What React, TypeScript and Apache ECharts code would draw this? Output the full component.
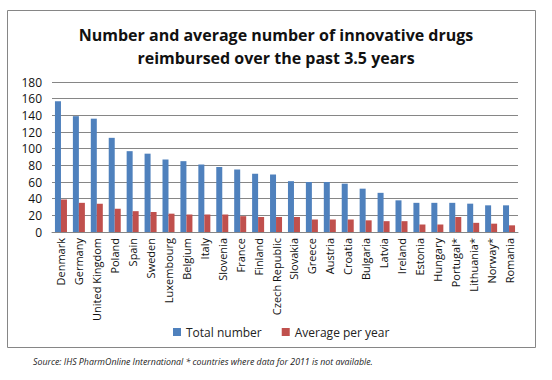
import React, { useEffect, useRef } from "react";
import * as echarts from "echarts";

const categories = ["Denmark","Germany","United Kingdom","Poland","Spain","Sweden","Luxembourg","Belgium","Italy","Slovenia","France","Finland","Czech Republic","Slovakia","Greece","Austria","Croatia","Bulgaria","Latvia","Ireland","Estonia","Hungary","Portugal*","Lithuania*","Norway*","Romania"];
const totalNumber = [157,139,136,113,97,94,87,85,81,78,75,70,69,61,60,60,58,52,47,38,35,35,35,34,32,32];
const averagePerYear = [39,35,34,28,25,24,22,21,21,21,19,18,18,18,15,15,15,14,13,13,9,9,18,11,10,8];
const yTicks = { min: 0, max: 180, interval: 20 };

const FONT = "'Open Sans', 'Noto Sans', sans-serif";

export default function App() {
  const ref = useRef<HTMLDivElement>(null);
  useEffect(() => {
    if (!ref.current) return;
    const chart = echarts.init(ref.current, null, { renderer: "svg" });
    chart.setOption({
      animation: false,
      backgroundColor: "#ffffff",
      title: {
        text: "Number and average number of innovative drugs\nreimbursed over the past 3.5 years",
        left: "center",
        top: 18,
        textStyle: { fontFamily: FONT, fontSize: 16, fontWeight: "bold", color: "#111", lineHeight: 23 },
      },
      legend: {
        data: ["Total number", "Average per year"],
        left: 168,
        top: 321,
        itemWidth: 8,
        itemHeight: 8,
        itemGap: 20,
        icon: "rect",
        textStyle: { fontFamily: FONT, fontSize: 12, color: "#222" },
      },
      grid: { left: 52, right: 34, top: 82, bottom: 148 },
      xAxis: {
        type: "category",
        data: categories,
        axisLine: { show: true, lineStyle: { color: "#868686" } },
        axisTick: { show: false },
        axisLabel: { rotate: 90, interval: 0, fontFamily: FONT, fontSize: 11, color: "#111", margin: 6 },
      },
      yAxis: {
        type: "value",
        min: yTicks.min,
        max: yTicks.max,
        interval: yTicks.interval,
        axisLine: { show: false },
        axisTick: { show: false },
        splitLine: { lineStyle: { color: "#868686" } },
        axisLabel: { fontFamily: FONT, fontSize: 12, color: "#111", margin: 10 },
      },
      series: [
        {
          name: "Total number",
          type: "bar",
          data: totalNumber,
          itemStyle: { color: "#4F81BD" },
          barGap: "0%",
          barCategoryGap: "33%",
        },
        {
          name: "Average per year",
          type: "bar",
          data: averagePerYear,
          itemStyle: { color: "#C0504D" },
        },
      ],
      graphic: [
        {
          type: "rect",
          shape: { x: 7.5, y: 10.5, width: 528, height: 337 },
          style: { fill: "none", stroke: "#868686", lineWidth: 1 },
          silent: true,
        },
        {
          type: "text",
          left: 33,
          top: 357,
          style: {
            text: "Source: IHS PharmOnline International * countries where data for 2011 is not available.",
            fontFamily: FONT,
            fontSize: 8.8,
            fontStyle: "italic",
            fill: "#222",
          },
        },
      ],
    });
    return () => chart.dispose();
  }, []);
  return <div ref={ref} style={{ position: "fixed", left: 0, top: 0, width: 552, height: 380 }} />;
}
